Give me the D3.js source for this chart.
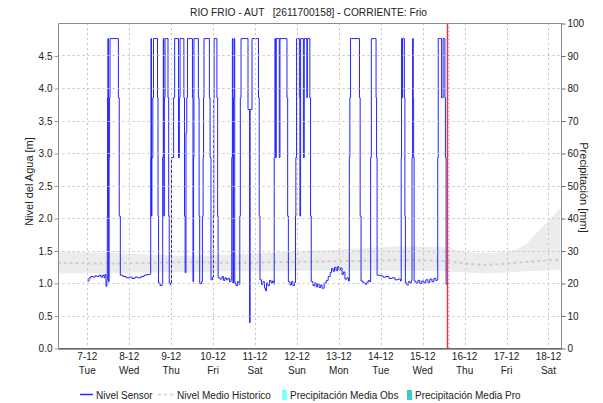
<!DOCTYPE html>
<html>
<head>
<meta charset="utf-8">
<script src="https://cdn.jsdelivr.net/npm/d3@7"></script>
<style>
  html, body { margin: 0; padding: 0; background: #fff; }
  svg { display: block; font-family: "Liberation Sans", Arial, sans-serif; }
</style>
</head>
<body>
<svg id="chart" width="603" height="403"></svg>
<script>
// ---- texts ----
const chartTitle = "RIO FRIO - AUT   [2611700158] - CORRIENTE: Frio";
const axisTitleLeft = "Nivel del Agua [m]";
const axisTitleRight = "Precipitación [mm]";
const legendLabels = ["Nivel Sensor", "Nivel Medio Historico", "Precipitación Media Obs", "Precipitación Media Pro"];

// ---- ticks ----
const levelTicks = [0, 0.5, 1.0, 1.5, 2.0, 2.5, 3.0, 3.5, 4.0, 4.5];
const rainTicks = [0, 10, 20, 30, 40, 50, 60, 70, 80, 90, 100];
const dayTicks = ["2021-12-07", "2021-12-08", "2021-12-09", "2021-12-10", "2021-12-11", "2021-12-12",
                  "2021-12-13", "2021-12-14", "2021-12-15", "2021-12-16", "2021-12-17", "2021-12-18"];

// ---- time window ----
const viewStart = "2021-12-06T07:00";
const viewEnd = "2021-12-18T07:00";
const nowMark = "2021-12-15T14:00";
const sensorOrigin = "2021-12-07T00:00";   // hours below count from here

// ---- sensor level [hours since origin, m]; each reading holds until the next ----
const nivelSensor = [
  [0, 1.03], [1.0, 1.08], [2.1, 1.10], [3.3, 1.09], [4.4, 1.11], [5.6, 1.10], [6.7, 1.12], [7.8, 1.09],
  [8.7, 1.12], [9.6, 1.08], [10.1, 1.13], [10.7, 0.95], [11.2, 1.05],
  [11.45, 2.03], [11.6, 3.85], [11.8, 4.76], [12.1, 1.02], [12.5, 2.93], [12.75, 3.85], [13.0, 4.76],
  [17.8, 3.85], [18.3, 2.03], [18.9, 1.12],
  [20.4, 1.10], [22.2, 1.08], [23.9, 1.09], [25.6, 1.07], [27.3, 1.09], [29.0, 1.08], [30.7, 1.10],
  [32.5, 1.12], [34.2, 1.13], [35.9, 1.14],
  [36.3, 2.93], [36.45, 4.76], [36.75, 2.03], [37.0, 2.93], [37.5, 3.85], [37.9, 4.76],
  [40.2, 3.85], [40.5, 2.03], [40.8, 1.0], [41.65, 0.96], [42.75, 0.98],
  [43.15, 2.93], [43.5, 4.76], [43.8, 2.03], [44.1, 3.85], [44.5, 4.76],
  [46.2, 3.85], [46.6, 2.03], [46.9, 1.0], [47.6, 0.97],
  [48.2, 2.93], [49.4, 3.85], [50.0, 4.76], [52.2, 2.93], [52.7, 3.85], [53.1, 4.76],
  [55.3, 3.85], [55.65, 2.03], [56.0, 1.16], [56.5, 3.31], [56.95, 3.85], [57.35, 4.76],
  [60.2, 3.85], [60.5, 1.02], [60.85, 2.93], [61.05, 4.76],
  [63.6, 3.85], [64.0, 2.03], [64.35, 0.99], [65.4, 1.02],
  [65.9, 2.03], [66.3, 2.93], [66.55, 3.85], [66.8, 4.76],
  [69.9, 3.85], [70.3, 2.93], [70.8, 1.05], [71.7, 1.09],
  [72.2, 2.03], [72.4, 3.85], [72.6, 4.76], [74.2, 3.85], [74.6, 2.03], [74.9, 1.08],
  [76.0, 1.06], [77.1, 1.10], [78.0, 1.04], [78.8, 1.08], [79.7, 1.05], [80.5, 1.07], [81.4, 1.02], [82.3, 1.06],
  [82.7, 2.93], [83.05, 4.76], [83.35, 1.0], [83.7, 3.85], [84.1, 4.76], [84.4, 1.0],
  [85.1, 0.96], [86.0, 1.02], [86.8, 0.98],
  [87.3, 2.03], [87.6, 3.85], [88.0, 4.76], [92.0, 3.67], [92.9, 0.39], [93.2, 3.67], [94.3, 4.76],
  [98.0, 3.85], [98.4, 2.03], [98.85, 1.05],
  [99.7, 0.98], [100.6, 1.02], [101.4, 0.92], [102.0, 0.88], [102.6, 1.0], [103.4, 0.96], [104.3, 1.04],
  [105.2, 1.0], [106.0, 1.03], [106.8, 0.98],
  [107.0, 2.93], [107.4, 4.76], [107.8, 2.93], [108.2, 4.76], [109.9, 2.93], [110.3, 4.76],
  [114.3, 3.85], [114.7, 2.03], [115.1, 1.02],
  [116.0, 0.97], [116.9, 1.02], [117.7, 0.96], [118.6, 1.01],
  [119.2, 2.03], [119.4, 2.93], [119.8, 4.76], [121.4, 3.85], [121.7, 2.03], [122.1, 4.76],
  [123.7, 2.93], [124.2, 4.76], [125.7, 3.85], [126.0, 4.76], [127.4, 3.85], [127.8, 2.03], [128.2, 1.02],
  [129.2, 0.96], [130.1, 1.0], [131.0, 0.94], [131.8, 0.99], [132.7, 0.93], [133.6, 0.97], [134.4, 0.92],
  [135.6, 1.0], [136.8, 1.04], [137.9, 1.10], [139.0, 1.16], [139.8, 1.22], [140.7, 1.18], [141.5, 1.24],
  [142.4, 1.19], [143.2, 1.25], [144.1, 1.20], [144.9, 1.23], [145.8, 1.13], [146.6, 1.17], [147.5, 1.06],
  [148.6, 1.08], [149.5, 1.03],
  [150.0, 2.93], [150.3, 3.85], [150.7, 4.76], [155.8, 3.85], [156.2, 2.03], [156.7, 1.03],
  [157.8, 1.0], [159.1, 0.98], [160.0, 1.01], [160.8, 1.04], [161.6, 1.02],
  [162.2, 2.93], [162.6, 4.76], [165.3, 3.85], [165.6, 2.93], [165.9, 1.12],
  [167.6, 1.11], [169.3, 1.09], [171.0, 1.10], [172.7, 1.07], [174.4, 1.08], [176.1, 1.05], [177.8, 1.06], [179.3, 1.03],
  [179.7, 2.93], [179.9, 4.76], [180.2, 3.85], [180.5, 4.76], [181.5, 3.85], [181.8, 2.03], [182.1, 1.0],
  [183.0, 0.97], [183.8, 1.02], [184.7, 1.0], [185.5, 1.04],
  [185.9, 2.93], [186.2, 4.76], [186.6, 3.85], [186.8, 2.93], [187.1, 1.03],
  [188.1, 1.0], [189.3, 1.04], [190.4, 0.99], [191.5, 1.03], [192.7, 1.0], [193.8, 1.05], [195.0, 1.01],
  [196.1, 1.06], [197.3, 1.02], [198.4, 1.07], [199.5, 1.04], [200.3, 1.05],
  [200.6, 2.93], [200.9, 4.76], [202.8, 3.85], [203.2, 3.85], [203.7, 4.76],
  [204.7, 3.85], [205.0, 2.93], [205.4, 0.98], [205.8, 0.97]
];

// ---- historical level [hours since origin] with mean and range ----
const historicoHoras = [-17, 12, 36, 60, 84, 108, 132, 156, 180, 204, 216, 228, 240, 250, 260, 271];
const historicoMedio = [1.31, 1.30, 1.31, 1.32, 1.31, 1.32, 1.33, 1.34, 1.35, 1.34, 1.30, 1.28, 1.30, 1.32, 1.34, 1.36];
const historicoMin   = [1.15, 1.15, 1.16, 1.17, 1.18, 1.18, 1.19, 1.19, 1.19, 1.18, 1.16, 1.15, 1.16, 1.18, 1.19, 1.20];
const historicoMax   = [1.49, 1.46, 1.44, 1.42, 1.44, 1.47, 1.50, 1.53, 1.56, 1.55, 1.48, 1.46, 1.48, 1.58, 1.85, 2.15];

// ---- precipitation [date, mm] (no rain recorded in this window) ----
const precipObs = [];
const precipPro = [];

// ---- colours ----
const colSensor = "#2424ff";
const colHistLine = "#cdcdcd";
const colHistBand = "#ececec";
const colObs = "#80ffff";
const colPro = "#40c8c8";
const colGrid = "#c4c4c4";
const colNow = "#e23a3a";

// ---------------------------------------------------------------
const svg = d3.select("#chart");
const W = 603, H = 403;
const plot = { left: 57.6, right: 560.7, top: 23, bottom: 348 };

const parse = s => new Date(s);
const origin = parse(sensorOrigin);
const atHour = h => new Date(origin.getTime() + h * 3600 * 1000);

const x = d3.scaleTime().domain([parse(viewStart), parse(viewEnd)]).range([plot.left, plot.right]);
const yL = d3.scaleLinear().domain([0, 5]).range([plot.bottom, plot.top]);
const yR = d3.scaleLinear().domain([0, 100]).range([plot.bottom, plot.top]);
const px = v => Math.round(v) + 0.5;

svg.append("rect").attr("width", W).attr("height", H).attr("fill", "#fff");

// clip for plot contents
svg.append("clipPath").attr("id", "plotClip")
  .append("rect").attr("x", plot.left).attr("y", plot.top)
  .attr("width", plot.right - plot.left).attr("height", plot.bottom - plot.top);

// historical band
const histData = historicoHoras.map((h, i) => ({ t: atHour(h), m: historicoMedio[i], lo: historicoMin[i], hi: historicoMax[i] }));
const content = svg.append("g").attr("clip-path", "url(#plotClip)");
content.append("path").datum(histData)
  .attr("fill", colHistBand)
  .attr("d", d3.area().curve(d3.curveMonotoneX).x(d => x(d.t)).y0(d => yL(d.lo)).y1(d => yL(d.hi)));

// grid
const grid = svg.append("g").attr("stroke", colGrid).attr("stroke-dasharray", "2,3").attr("stroke-width", 1);
levelTicks.filter(v => v > 0).forEach(v => {
  grid.append("line").attr("x1", plot.left).attr("x2", plot.right).attr("y1", px(yL(v))).attr("y2", px(yL(v)));
});
dayTicks.forEach(d => {
  const xx = px(x(parse(d + "T00:00")));
  grid.append("line").attr("x1", xx).attr("x2", xx).attr("y1", plot.top).attr("y2", plot.bottom);
});

// historical mean line
content.append("path").datum(histData)
  .attr("fill", "none").attr("stroke", colHistLine).attr("stroke-width", 2).attr("stroke-dasharray", "3,3")
  .attr("d", d3.line().curve(d3.curveMonotoneX).x(d => x(d.t)).y(d => yL(d.m)));

// precipitation bars (right axis)
const barW = 4;
[[precipObs, colObs], [precipPro, colPro]].forEach(([arr, col]) => {
  content.selectAll(null).data(arr).enter().append("rect")
    .attr("x", d => x(parse(d[0])) - barW / 2).attr("width", barW)
    .attr("y", d => yR(d[1])).attr("height", d => plot.bottom - yR(d[1]))
    .attr("fill", col);
});

// sensor line (readings hold their value until the next one)
content.append("path").datum(nivelSensor)
  .attr("fill", "none").attr("stroke", colSensor).attr("stroke-width", 1)
  .attr("d", d3.line().curve(d3.curveStepAfter).x(d => x(atHour(d[0]))).y(d => yL(d[1])));

// current time marker
const nowX = px(x(parse(nowMark)));
svg.append("line").attr("x1", nowX).attr("x2", nowX).attr("y1", plot.top).attr("y2", plot.bottom)
  .attr("stroke", colNow).attr("stroke-width", 1.5);
svg.append("line").attr("x1", nowX + 1.5).attr("x2", nowX + 1.5).attr("y1", plot.top).attr("y2", plot.bottom)
  .attr("stroke", colNow).attr("stroke-opacity", 0.6).attr("stroke-width", 1).attr("stroke-dasharray", "1,3");

// frame
const frame = svg.append("g").attr("stroke", "#8a8a8a").attr("stroke-width", 1).attr("fill", "none");
frame.append("line").attr("x1", px(plot.left)).attr("x2", px(plot.right)).attr("y1", px(plot.top)).attr("y2", px(plot.top));
frame.append("line").attr("x1", px(plot.left)).attr("x2", px(plot.left)).attr("y1", px(plot.top)).attr("y2", plot.bottom);
frame.append("line").attr("x1", px(plot.right)).attr("x2", px(plot.right)).attr("y1", px(plot.top)).attr("y2", plot.bottom);
// bottom axis line with hourly minor marks
svg.append("line").attr("x1", px(plot.left)).attr("x2", px(plot.right) + 0.5).attr("y1", px(plot.bottom)).attr("y2", px(plot.bottom))
  .attr("stroke", "#6a6a6a");
svg.append("line").attr("x1", px(plot.left)).attr("x2", px(plot.right)).attr("y1", px(plot.bottom) + 1).attr("y2", px(plot.bottom) + 1)
  .attr("stroke", "#3a3a3a").attr("stroke-dasharray", "1,1");

// left axis
const leftAxis = d3.axisLeft(yL).tickValues(levelTicks).tickFormat(d3.format(".1f")).tickSize(4).tickPadding(2);
const gL = svg.append("g").attr("transform", `translate(${px(plot.left)},0.5)`).call(leftAxis);
gL.select(".domain").remove();
gL.selectAll(".tick line").attr("stroke", "#9a9a9a");
gL.selectAll("text").attr("font-size", 10).attr("fill", "#222").attr("font-family", "Liberation Sans, Arial, sans-serif");

// right axis
const rightAxis = d3.axisRight(yR).tickValues(rainTicks).tickSize(4).tickPadding(2);
const gR = svg.append("g").attr("transform", `translate(${px(plot.right)},0.5)`).call(rightAxis);
gR.select(".domain").remove();
gR.selectAll(".tick line").attr("stroke", "#6a6a6a");
gR.selectAll("text").attr("font-size", 10).attr("fill", "#222").attr("font-family", "Liberation Sans, Arial, sans-serif");

// bottom labels (date and weekday)
const fmtDate = d3.timeFormat("%-d-%m");
const fmtDay = d3.timeFormat("%a");
const gX = svg.append("g").attr("font-size", 10).attr("fill", "#222").attr("text-anchor", "middle");
dayTicks.forEach(d => {
  const t = parse(d + "T00:00");
  const xx = x(t);
  gX.append("text").attr("x", xx).attr("y", 360).text(fmtDate(t));
  gX.append("text").attr("x", xx).attr("y", 374).text(fmtDay(t));
});

// titles
svg.append("text").attr("x", 190).attr("y", 16)
  .attr("font-size", 10.5).attr("fill", "#222").style("white-space", "pre")
  .attr("textLength", 237).attr("lengthAdjust", "spacingAndGlyphs").text(chartTitle);
svg.append("text").attr("transform", `translate(33,${(plot.top + plot.bottom) / 2 - 4}) rotate(-90)`)
  .attr("text-anchor", "middle").attr("font-size", 11).attr("fill", "#222").text(axisTitleLeft);
svg.append("text").attr("transform", `translate(580,${(plot.top + plot.bottom) / 2 + 2}) rotate(90)`)
  .attr("text-anchor", "middle").attr("font-size", 11).attr("fill", "#222").text(axisTitleRight);

// legend
const lg = svg.append("g").attr("font-size", 10).attr("fill", "#222");
const ly = 395;
lg.append("line").attr("x1", 80).attr("x2", 93).attr("y1", ly - 0.5).attr("y2", ly - 0.5).attr("stroke", colSensor).attr("stroke-width", 1.5);
lg.append("text").attr("x", 96).attr("y", ly + 4).text(legendLabels[0]);
lg.append("line").attr("x1", 158).attr("x2", 173).attr("y1", ly - 0.5).attr("y2", ly - 0.5).attr("stroke", colHistLine)
  .attr("stroke-width", 1.5).attr("stroke-dasharray", "3,3");
lg.append("text").attr("x", 177).attr("y", ly + 4).text(legendLabels[1]);
lg.append("rect").attr("x", 282).attr("y", ly - 5).attr("width", 5).attr("height", 10).attr("fill", colObs);
lg.append("text").attr("x", 290).attr("y", ly + 4).text(legendLabels[2]);
lg.append("rect").attr("x", 407).attr("y", ly - 5).attr("width", 5).attr("height", 10).attr("fill", colPro);
lg.append("text").attr("x", 415).attr("y", ly + 4).text(legendLabels[3]);
</script>
</body>
</html>
